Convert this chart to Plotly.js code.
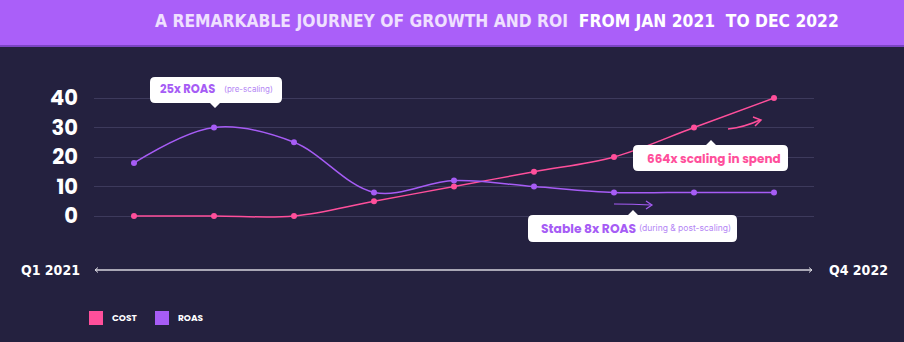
<!DOCTYPE html>
<html>
<head>
<meta charset="utf-8">
<script src="https://cdn.plot.ly/plotly-3.0.1.min.js"></script>
<style>
html,body{margin:0;padding:0;background:#24213f;}
#chart{width:904px;height:342px;}
</style>
</head>
<body>
<div id="chart"></div>
<script>
// ---- data ----
const steps = [0, 1, 2, 3, 4, 5, 6, 7, 8];
const cost = [0, 0, 0, 5, 10, 15, 20, 30, 40];
const roas = [18, 30, 25, 8, 12, 10, 8, 8, 8];
const yTicks = [0, 10, 20, 30, 40];
const startLabel = 'Q1 2021';
const endLabel = 'Q4 2022';
const titleMain = 'A REMARKABLE JOURNEY OF GROWTH AND ROI';
const titleSub = 'FROM JAN 2021  TO DEC 2022';

// ---- layout helpers (pixel -> paper) ----
const L = 94, PW = 720, T = 90, PH = 135;
const px = x => (x - L) / PW;
const py = y => (T + PH - y) / PH;
const P = (x, y) => px(x) + ',' + py(y);

const PINK = '#ff4f9b';
const PURPLE = '#a65cf5';
const BG = '#24213f';

function bubble(x0, y0, x1, y1, r, tipX, tipY, side) {
  const w = 5;
  let d = 'M' + P(x0 + r, y0);
  if (side === 'top') {
    d += ' L' + P(tipX - w, y0) + ' L' + P(tipX, tipY) + ' L' + P(tipX + w, y0);
  }
  d += ' L' + P(x1 - r, y0) + ' Q' + P(x1, y0) + ' ' + P(x1, y0 + r);
  d += ' L' + P(x1, y1 - r) + ' Q' + P(x1, y1) + ' ' + P(x1 - r, y1);
  if (side === 'bottom') {
    d += ' L' + P(tipX + w, y1) + ' L' + P(tipX, tipY) + ' L' + P(tipX - w, y1);
  }
  d += ' L' + P(x0 + r, y1) + ' Q' + P(x0, y1) + ' ' + P(x0, y1 - r);
  d += ' L' + P(x0, y0 + r) + ' Q' + P(x0, y0) + ' ' + P(x0 + r, y0) + ' Z';
  return {type: 'path', xref: 'paper', yref: 'paper', path: d,
          fillcolor: '#ffffff', line: {width: 0}, layer: 'above'};
}

const shapes = [
  {type: 'rect', xref: 'paper', yref: 'paper', x0: px(0), x1: px(904), y0: py(45), y1: py(0),
   fillcolor: '#aa5ff9', line: {width: 0}, layer: 'below'},
  {type: 'rect', xref: 'paper', yref: 'paper', x0: px(0), x1: px(904), y0: py(47), y1: py(45),
   fillcolor: '#7b45c4', line: {width: 0}, layer: 'below'},
  {type: 'line', xref: 'paper', yref: 'paper', x0: px(95), x1: px(812), y0: py(270), y1: py(270),
   line: {color: '#d6d5de', width: 1.5}},
  {type: 'path', xref: 'paper', yref: 'paper', path: 'M' + P(98, 267.5) + ' L' + P(95, 270) + ' L' + P(98, 272.5),
   line: {color: '#d6d5de', width: 1}},
  {type: 'path', xref: 'paper', yref: 'paper', path: 'M' + P(809, 267.5) + ' L' + P(812, 270) + ' L' + P(809, 272.5),
   line: {color: '#d6d5de', width: 1}},
  bubble(150, 77, 282, 103, 5, 215, 108, 'bottom'),
  bubble(633, 145, 788, 171, 5, 711, 140, 'top'),
  bubble(528, 215, 737, 242, 5, 633, 210, 'top'),
  {type: 'path', xref: 'paper', yref: 'paper',
   path: 'M' + P(728, 129) + ' Q' + P(745, 127) + ' ' + P(760, 120),
   line: {color: PINK, width: 1.5}},
  {type: 'path', xref: 'paper', yref: 'paper',
   path: 'M' + P(753, 117) + ' L' + P(761, 120) + ' L' + P(755, 126),
   line: {color: PINK, width: 1.5}},
  {type: 'path', xref: 'paper', yref: 'paper',
   path: 'M' + P(614, 204) + ' Q' + P(633, 204) + ' ' + P(651, 205),
   line: {color: PURPLE, width: 1.2}},
  {type: 'path', xref: 'paper', yref: 'paper',
   path: 'M' + P(646, 201) + ' L' + P(652, 205) + ' L' + P(646, 209),
   line: {color: PURPLE, width: 1.2}},
  {type: 'rect', xref: 'paper', yref: 'paper', x0: px(89), x1: px(103), y0: py(325), y1: py(311),
   fillcolor: PINK, line: {width: 0}},
  {type: 'rect', xref: 'paper', yref: 'paper', x0: px(155), x1: px(169), y0: py(325), y1: py(311),
   fillcolor: PURPLE, line: {width: 0}}
];

function txt(text, x, y, size, color, anchor, family, weight) {
  return {text: text, xref: 'paper', yref: 'paper', x: px(x), y: py(y),
    xanchor: anchor || 'left', yanchor: 'middle', showarrow: false,
    font: {size: size, color: color, family: family || 'Poppins, Inter, "Open Sans", sans-serif', weight: weight || 700}};
}

const condensed = '"DejaVu Sans Condensed", "Liberation Sans Narrow", Inter, sans-serif';

const annotations = [
  {text: '<span style="color:#efe0ff">' + titleMain + '</span>  <span style="color:#ffffff">' + titleSub + '</span>',
   xref: 'paper', yref: 'paper', x: px(497), y: py(21), xanchor: 'center', yanchor: 'middle', showarrow: false,
   font: {size: 17.3, family: condensed, weight: 700}},
  txt(startLabel, 50, 270, 14, '#ffffff', 'center', condensed),
  txt(endLabel, 858, 270, 14, '#ffffff', 'center', condensed),
  txt('25x ROAS', 158, 89, 11.5, PURPLE, 'left'),
  txt('(pre-scaling)', 222, 89, 8, '#b486f5', 'left', 'Inter, sans-serif', 400),
  txt('664x scaling in spend', 645, 158, 12, PINK, 'left'),
  txt('Stable 8x ROAS', 539, 228, 12.3, PURPLE, 'left'),
  txt('(during &amp; post-scaling)', 637, 228, 8.5, '#b486f5', 'left', 'Inter, sans-serif', 400),
  txt('COST', 110, 318, 9, '#ffffff', 'left'),
  txt('ROAS', 176, 318, 9, '#ffffff', 'left')
];

const traces = [
  {x: steps, y: cost, name: 'COST', type: 'scatter', mode: 'lines+markers',
   line: {color: PINK, width: 1.5, shape: 'spline', smoothing: 1},
   marker: {color: PINK, size: 6}, hoverinfo: 'skip'},
  {x: steps, y: roas, name: 'ROAS', type: 'scatter', mode: 'lines+markers',
   line: {color: PURPLE, width: 1.5, shape: 'spline', smoothing: 1},
   marker: {color: PURPLE, size: 6}, hoverinfo: 'skip'}
];

const layout = {
  width: 904, height: 342,
  margin: {l: L, r: 904 - L - PW, t: T, b: 342 - T - PH, pad: 0},
  paper_bgcolor: BG, plot_bgcolor: BG,
  showlegend: false,
  xaxis: {range: [-0.5, 8.5], showgrid: false, zeroline: false, showline: false,
          showticklabels: false, ticks: '', fixedrange: true},
  yaxis: {range: [-3.051, 42.712], tickvals: yTicks, ticktext: yTicks.map(String),
          showgrid: true, gridcolor: '#3d3a5c', gridwidth: 1, zeroline: false, showline: false,
          ticks: '', ticklabelstandoff: 15,
          tickfont: {size: 21, color: '#ffffff', family: 'Poppins, Inter, "Open Sans", sans-serif', weight: 700},
          fixedrange: true},
  shapes: shapes,
  annotations: annotations
};

Plotly.newPlot('chart', traces, layout, {displayModeBar: false, staticPlot: true});
</script>
</body>
</html>
